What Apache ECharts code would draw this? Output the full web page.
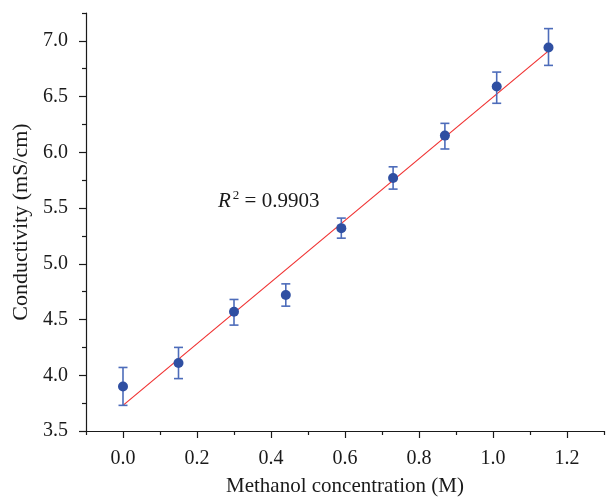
<!DOCTYPE html>
<html>
<head>
<meta charset="utf-8">
<script src="https://cdn.jsdelivr.net/npm/echarts@6/dist/echarts.min.js"></script>
<style>
  html, body { margin: 0; padding: 0; background: #fff; }
  #chart { width: 607px; height: 497px; }
</style>
</head>
<body>
<div id="chart"></div>
<script>
// 数据
const concentration = [0, 0.15, 0.30, 0.44, 0.59, 0.73, 0.87, 1.01, 1.15];
const conductivity  = [3.90, 4.11, 4.57, 4.72, 5.32, 5.77, 6.15, 6.59, 6.94];
const errLow        = [3.73, 3.97, 4.45, 4.62, 5.23, 5.67, 6.03, 6.44, 6.78];
const errHigh       = [4.07, 4.25, 4.68, 4.82, 5.41, 5.87, 6.26, 6.72, 7.11];
// 拟合直线两端
const fitX = [0, 1.15];
const fitY = [3.73, 6.91];
// 刻度
const xMajor = [0, 0.2, 0.4, 0.6, 0.8, 1.0, 1.2];
const xMinor = [-0.1, 0.1, 0.3, 0.5, 0.7, 0.9, 1.1, 1.3];
const yMajor = [3.5, 4.0, 4.5, 5.0, 5.5, 6.0, 6.5, 7.0];
const yMinor = [3.75, 4.25, 4.75, 5.25, 5.75, 6.25, 6.75, 7.25];

const font = '"Liberation Serif", "DejaVu Serif", serif';
const blue = '#2f4fa2';
const barBlue = '#4d6cba';
const ink = '#1a1a1a';

let chart = echarts.init(document.getElementById('chart'));

let points = concentration.map((x, i) => [x, conductivity[i]]);
let bars = concentration.map((x, i) => [x, errLow[i], errHigh[i]]);
let fitLine = fitX.map((x, i) => [x, fitY[i]]);

let axisLineStyle = { show: true, onZero: false, lineStyle: { color: ink, width: 1.2 } };

let option = {
    animation: false,
    grid: { left: 86, right: 3, top: 13, bottom: 66, outerBoundsMode: 'none' },
    xAxis: [
        {
            type: 'value', min: -0.1, max: 1.3, position: 'bottom',
            splitLine: { show: false },
            name: 'Methanol concentration (M)',
            nameLocation: 'middle',
            nameGap: 45,
            nameTextStyle: { fontFamily: font, fontSize: 21, color: ink },
            axisLine: axisLineStyle,
            axisTick: { show: true, length: 7, customValues: xMajor, lineStyle: { color: ink, width: 1.2 } },
            axisLabel: {
                customValues: xMajor, margin: 18,
                fontFamily: font, fontSize: 20, color: ink,
                formatter: v => v.toFixed(1)
            }
        },
        {
            type: 'value', min: -0.1, max: 1.3, position: 'bottom',
            splitLine: { show: false },
            axisLine: { show: false, onZero: false },
            axisTick: { show: true, length: 4, customValues: xMinor, lineStyle: { color: ink, width: 1.2 } },
            axisLabel: { show: false }
        }
    ],
    yAxis: [
        {
            type: 'value', min: 3.5, max: 7.25, position: 'left',
            splitLine: { show: false },
            name: 'Conductivity (mS/cm)',
            nameLocation: 'middle',
            nameGap: 54,
            nameTextStyle: { fontFamily: font, fontSize: 22, color: ink },
            axisLine: axisLineStyle,
            axisTick: { show: true, length: 7, customValues: yMajor, lineStyle: { color: ink, width: 1.2 } },
            axisLabel: {
                customValues: yMajor, margin: 18,
                fontFamily: font, fontSize: 20, color: ink,
                formatter: v => v.toFixed(1)
            }
        },
        {
            type: 'value', min: 3.5, max: 7.25, position: 'left',
            splitLine: { show: false },
            axisLine: { show: false, onZero: false },
            axisTick: { show: true, length: 4, customValues: yMinor, lineStyle: { color: ink, width: 1.2 } },
            axisLabel: { show: false }
        }
    ],
    graphic: [{
        type: 'text',
        left: 218, top: 189,
        style: {
            text: '{i|R}{s|2}{n| = 0.9903}',
            rich: {
                i: { fontFamily: font, fontSize: 21, fontStyle: 'italic', fill: ink, verticalAlign: 'bottom' },
                s: { fontFamily: font, fontSize: 13, fill: ink, verticalAlign: 'top', padding: [0, 0, 10, 2] },
                n: { fontFamily: font, fontSize: 21, fill: ink, verticalAlign: 'bottom' }
            }
        }
    }],
    series: [
        {
            name: 'fit',
            type: 'line',
            data: fitLine,
            symbol: 'none',
            lineStyle: { color: '#f03232', width: 1.2 },
            z: 3
        },
        {
            name: 'error',
            type: 'custom',
            data: bars,
            renderItem: function (params, api) {
                let top = api.coord([api.value(0), api.value(2)]);
                let bot = api.coord([api.value(0), api.value(1)]);
                let cap = 4.5;
                let st = { stroke: barBlue, lineWidth: 1.6 };
                return {
                    type: 'group',
                    children: [
                        { type: 'line', shape: { x1: top[0], y1: top[1], x2: bot[0], y2: bot[1] }, style: st },
                        { type: 'line', shape: { x1: top[0] - cap, y1: top[1], x2: top[0] + cap, y2: top[1] }, style: st },
                        { type: 'line', shape: { x1: bot[0] - cap, y1: bot[1], x2: bot[0] + cap, y2: bot[1] }, style: st }
                    ]
                };
            },
            z: 4
        },
        {
            name: 'data',
            type: 'scatter',
            data: points,
            symbol: 'circle',
            symbolSize: 10,
            itemStyle: { color: blue, opacity: 1 },
            z: 5
        }
    ]
};
chart.setOption(option);
</script>
</body>
</html>
